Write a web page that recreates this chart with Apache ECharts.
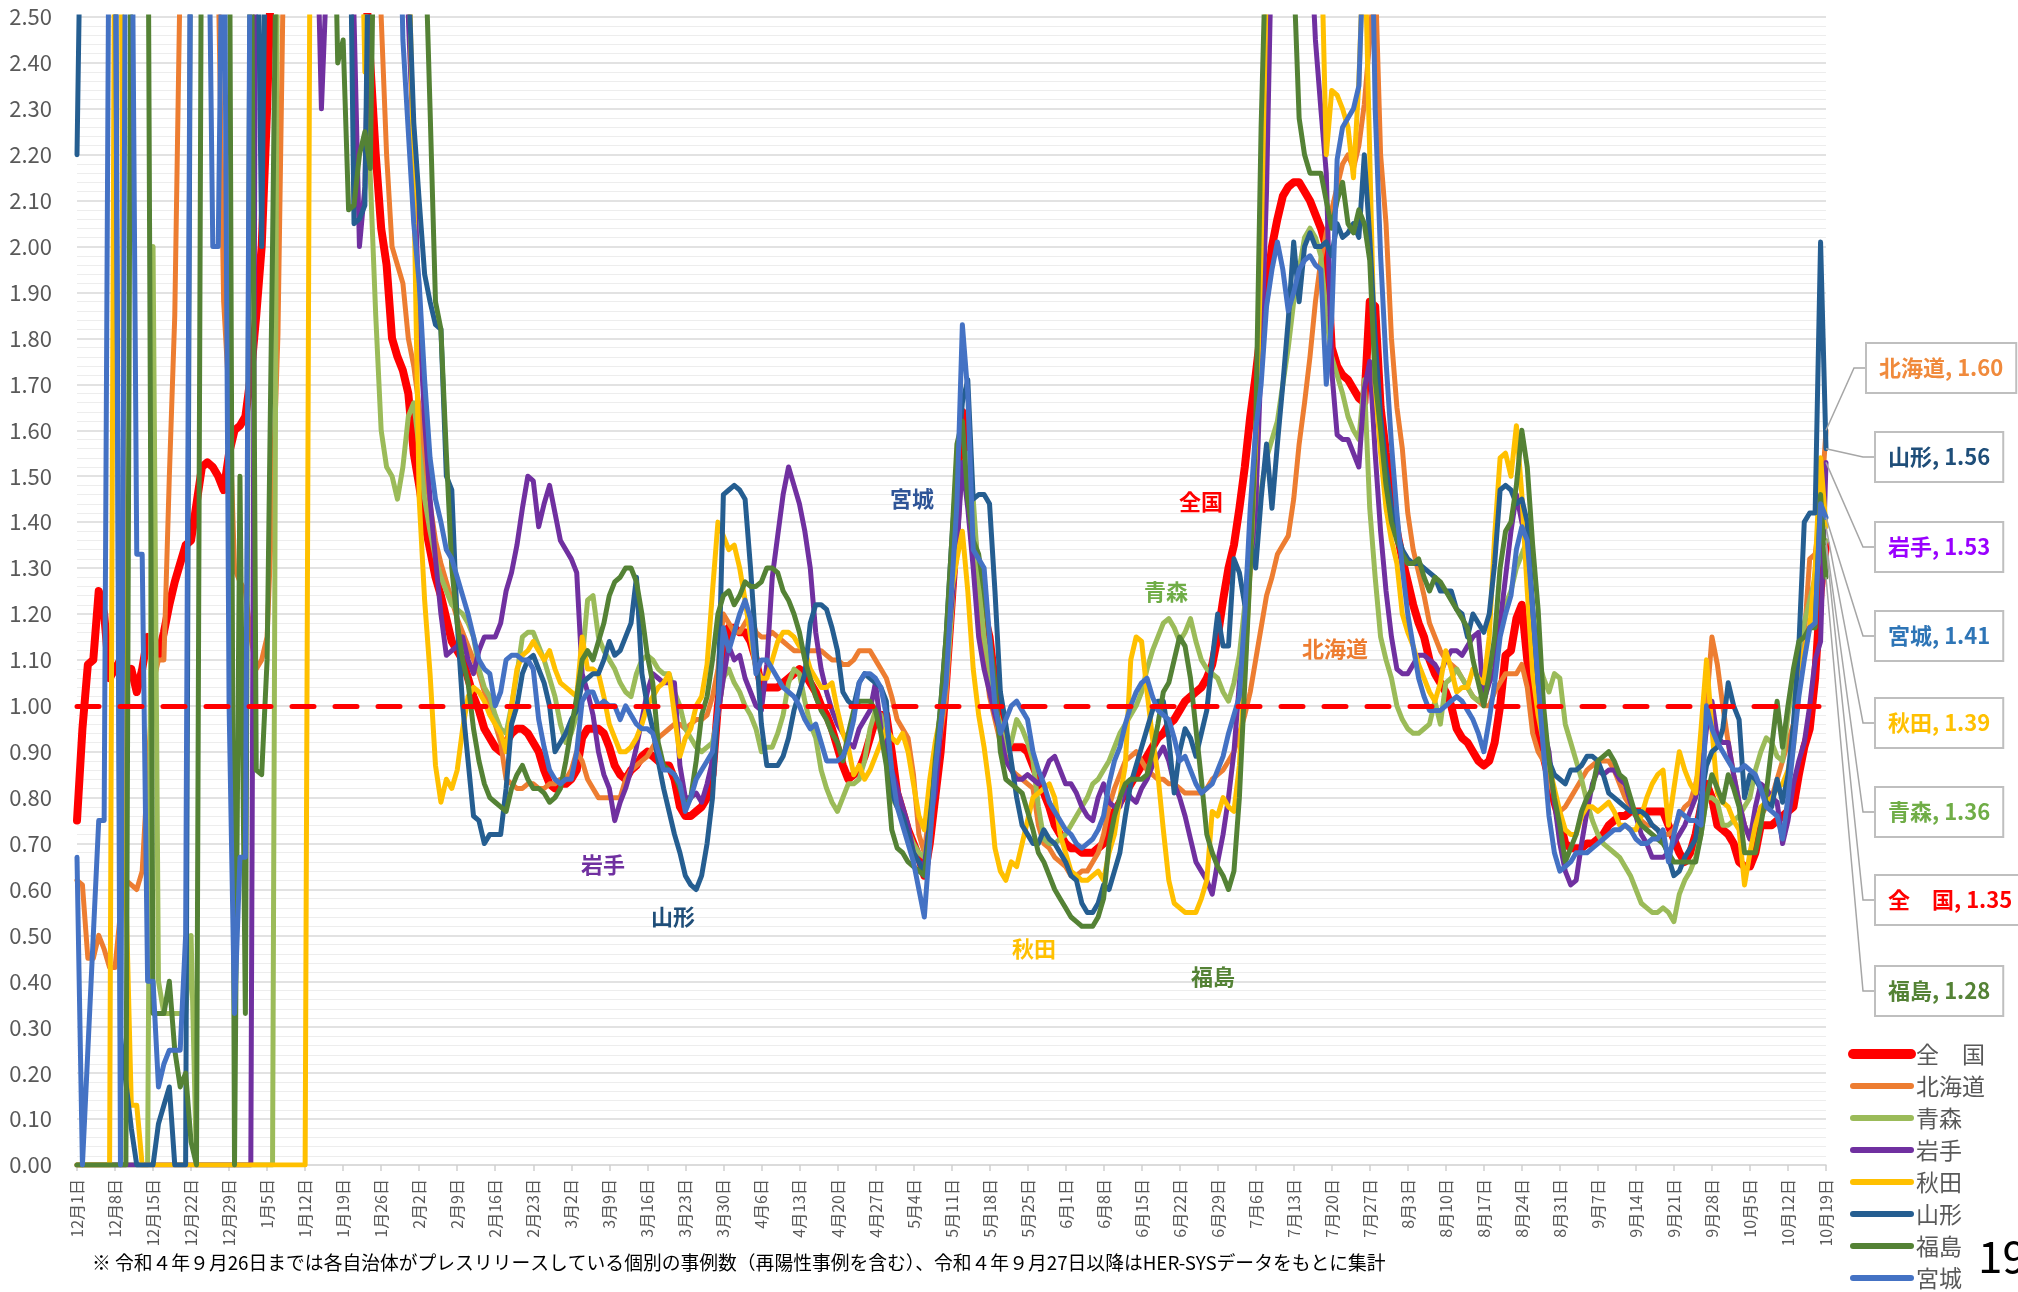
<!DOCTYPE html>
<html><head><meta charset="utf-8">
<script src="https://cdn.jsdelivr.net/npm/echarts@6/dist/echarts.min.js"></script>
<style>html,body{margin:0;padding:0;background:#fff}#c{width:2018px;height:1292px}</style>
</head><body><div id="c"></div>
<script>
// ---- categories: daily from 12月1日 to 10月19日 ----
const monthNames = [12,1,2,3,4,5,6,7,8,9,10];
const monthDays  = [31,31,28,31,30,31,30,31,31,30,19];
const categories = [];
monthNames.forEach((m,k)=>{ for(let d=1; d<=monthDays[k]; d++) categories.push(m+'月'+d+'日'); });

const seriesNames = ['全　国','北海道','青森','岩手','秋田','山形','福島','宮城'];
const seriesColors = ['#FF0000','#ED7D31','#9BBB59','#7030A0','#FFC000','#255E91','#548235','#4472C4'];

const zenkoku = [
0.75,0.95,1.09,1.10,1.25,1.20,1.06,1.08,1.10,1.06,
1.08,1.03,1.08,1.15,1.12,1.11,1.16,1.22,1.27,1.31,
1.35,1.36,1.44,1.52,1.53,1.52,1.50,1.47,1.55,1.60,
1.61,1.63,1.72,1.85,2.00,2.30,2.70,3.00,3.00,3.00,
3,3,3,3,3,3,3,3,3,3,
3.0,3.0,2.9,2.6,2.40,2.20,2.04,1.96,1.80,1.76,
1.73,1.68,1.55,1.48,1.40,1.34,1.28,1.24,1.19,1.14,
1.12,1.10,1.06,1.02,0.99,0.95,0.93,0.91,0.90,0.92,
0.94,0.95,0.95,0.94,0.92,0.90,0.86,0.83,0.82,0.83,
0.83,0.84,0.86,0.93,0.95,0.95,0.95,0.94,0.91,0.87,
0.85,0.84,0.86,0.87,0.89,0.90,0.89,0.88,0.87,0.87,
0.84,0.78,0.76,0.76,0.77,0.78,0.80,0.85,1.00,1.10,
1.17,1.17,1.16,1.16,1.14,1.10,1.04,1.04,1.04,1.04,
1.05,1.06,1.07,1.08,1.07,1.05,1.03,1.00,0.98,0.95,
0.91,0.87,0.84,0.85,0.86,0.89,0.93,0.97,0.98,0.98,
0.90,0.81,0.77,0.73,0.70,0.67,0.63,0.70,0.80,0.90,
1.05,1.22,1.40,1.64,1.52,1.38,1.25,1.20,1.15,1.05,
0.95,0.91,0.91,0.91,0.91,0.90,0.87,0.84,0.81,0.78,
0.74,0.72,0.70,0.69,0.69,0.68,0.68,0.68,0.69,0.70,
0.74,0.77,0.79,0.81,0.83,0.85,0.87,0.89,0.91,0.93,
0.94,0.96,0.97,0.99,1.01,1.02,1.03,1.04,1.06,1.09,
1.15,1.23,1.30,1.35,1.43,1.52,1.63,1.72,1.82,1.90,
2.00,2.06,2.11,2.13,2.14,2.14,2.12,2.10,2.07,2.04,
2.00,1.78,1.74,1.72,1.71,1.69,1.67,1.66,1.88,1.87,
1.65,1.55,1.47,1.38,1.32,1.27,1.22,1.18,1.15,1.10,
1.07,1.05,1.03,1.00,0.95,0.93,0.92,0.90,0.88,0.87,
0.88,0.92,1.00,1.11,1.12,1.19,1.22,1.10,1.00,0.94,
0.89,0.84,0.79,0.75,0.70,0.69,0.69,0.69,0.70,0.70,
0.71,0.72,0.74,0.75,0.76,0.76,0.77,0.77,0.77,0.77,
0.77,0.77,0.77,0.74,0.71,0.68,0.66,0.68,0.72,0.78,
0.83,0.80,0.74,0.73,0.72,0.70,0.66,0.65,0.65,0.68,
0.74,0.74,0.74,0.75,0.76,0.77,0.78,0.85,0.91,0.95,
1.06,1.25,1.35];

const hokkaido = [
0.62,0.61,0.45,0.45,0.50,0.47,0.43,0.43,0.55,0.62,
0.61,0.60,0.64,0.85,1.05,1.10,1.10,1.50,1.85,2.60,
3.0,3.0,3.0,3.0,3.0,3.0,2.6,1.88,1.67,1.30,
1.27,1.25,1.15,1.08,1.10,1.15,1.45,1.81,2.60,3.0,
3,3,3,3,3,3,3,3,3,3,
3,3,3,3,3,3,2.5,2.2,2.00,1.96,
1.92,1.80,1.74,1.65,1.52,1.44,1.36,1.31,1.27,1.23,
1.19,1.16,1.13,1.10,1.07,1.03,1.00,0.96,0.92,0.84,
0.83,0.82,0.82,0.83,0.83,0.82,0.82,0.83,0.83,0.84,
0.84,0.86,0.90,0.88,0.84,0.82,0.80,0.80,0.80,0.80,
0.80,0.84,0.86,0.87,0.88,0.89,0.91,0.93,0.94,0.95,
0.96,0.96,0.95,0.96,0.97,0.97,0.98,1.02,1.08,1.20,
1.18,1.16,1.16,1.18,1.20,1.16,1.15,1.15,1.16,1.15,
1.14,1.13,1.12,1.12,1.12,1.12,1.12,1.12,1.11,1.10,
1.10,1.09,1.09,1.10,1.12,1.12,1.12,1.10,1.08,1.06,
1.02,0.97,0.95,0.93,0.85,0.72,0.68,0.78,0.86,0.94,
1.02,1.20,1.40,1.52,1.50,1.42,1.25,1.12,1.02,0.97,
0.92,0.89,0.86,0.85,0.84,0.83,0.82,0.74,0.70,0.69,
0.67,0.66,0.65,0.63,0.63,0.64,0.64,0.66,0.68,0.72,
0.78,0.82,0.85,0.88,0.89,0.90,0.88,0.86,0.85,0.84,
0.84,0.83,0.83,0.82,0.81,0.81,0.81,0.81,0.82,0.84,
0.85,0.86,0.88,0.90,0.94,0.98,1.03,1.10,1.17,1.24,
1.28,1.33,1.35,1.37,1.45,1.57,1.66,1.76,1.88,1.97,
2.03,2.08,2.13,2.18,2.20,2.17,2.22,2.31,2.45,2.60,
2.20,2.05,1.80,1.65,1.56,1.42,1.34,1.29,1.24,1.18,
1.15,1.12,1.10,1.09,1.08,1.06,1.04,1.02,1.01,1.00,
1.00,1.03,1.05,1.07,1.07,1.07,1.09,1.04,0.94,0.90,
0.88,0.84,0.80,0.77,0.78,0.80,0.82,0.84,0.86,0.87,
0.88,0.88,0.88,0.86,0.83,0.80,0.78,0.76,0.75,0.74,
0.74,0.73,0.72,0.72,0.73,0.76,0.78,0.79,0.83,0.88,
1.00,1.15,1.09,1.00,0.92,0.85,0.79,0.74,0.71,0.74,
0.76,0.78,0.80,0.84,0.88,0.92,0.96,1.05,1.15,1.32,
1.33,1.42,1.60];

const aomori = [
0,0,0,0,0,0,0,0,0,0,
0,0,0,0,2.00,0.40,0.33,0.33,0.33,0.33,
0.33,0.50,0,0,0,0,0,0,0,0,
0,0,0,0,0,0,0,3.0,3.0,3.0,
3,3,3,3,3,3,3,3,3,3,
3,3,3,2.5,2.15,1.85,1.60,1.52,1.50,1.45,
1.52,1.63,1.66,1.56,1.45,1.38,1.32,1.28,1.25,1.22,
1.21,1.20,1.18,1.15,1.08,1.04,1.02,0.98,0.95,0.94,
1.00,1.07,1.15,1.16,1.16,1.13,1.10,1.06,1.02,0.96,
0.92,0.94,0.98,1.10,1.23,1.24,1.15,1.12,1.10,1.08,
1.05,1.03,1.02,1.07,1.10,1.11,1.10,1.08,1.07,1.07,
1.03,1.00,0.95,0.93,0.91,0.90,0.91,0.92,0.98,1.06,
1.08,1.05,1.03,1.00,0.98,0.95,0.90,0.91,0.91,0.94,
0.98,1.05,1.08,1.07,1.01,0.96,0.93,0.86,0.82,0.79,
0.77,0.80,0.83,0.83,0.84,0.88,0.95,0.99,0.98,0.92,
0.80,0.78,0.76,0.73,0.70,0.68,0.67,0.74,0.85,0.96,
1.05,1.20,1.38,1.52,1.55,1.45,1.28,1.15,1.08,1.00,
0.96,0.90,0.92,0.97,0.95,0.92,0.88,0.78,0.71,0.70,
0.70,0.71,0.72,0.74,0.76,0.78,0.80,0.83,0.84,0.86,
0.88,0.91,0.94,0.96,0.98,1.00,1.03,1.08,1.12,1.15,
1.18,1.19,1.17,1.14,1.16,1.19,1.14,1.10,1.08,1.07,
1.06,1.03,1.01,1.05,1.11,1.22,1.30,1.40,1.47,1.54,
1.58,1.62,1.70,1.78,1.88,1.95,2.02,2.04,2.02,1.98,
1.85,1.76,1.72,1.68,1.63,1.60,1.58,1.71,1.43,1.28,
1.15,1.10,1.06,1.00,0.97,0.95,0.94,0.94,0.95,0.96,
1.01,0.96,1.05,1.06,1.08,1.06,1.04,1.02,1.01,1.03,
1.08,1.11,1.16,1.22,1.25,1.30,1.33,1.36,1.20,1.10,
1.06,1.03,1.07,1.06,0.96,0.92,0.88,0.84,0.79,0.75,
0.72,0.70,0.69,0.68,0.67,0.65,0.63,0.60,0.57,0.56,
0.55,0.55,0.56,0.55,0.53,0.59,0.62,0.64,0.67,0.72,
0.80,0.80,0.79,0.74,0.74,0.75,0.76,0.78,0.80,0.86,
0.90,0.93,0.92,0.89,0.88,0.98,1.05,1.12,1.18,1.23,
1.28,1.33,1.36];

const iwate = [
0,0,0,0,0,0,0,0,0,0,
0,0,0,0,0,0,0,0,0,0,
0,0,0,0,0,0,0,0,0,0,
0,0,0,3.0,3.0,3.0,3.0,3.0,3.0,3.0,
3.0,3.0,3.0,3.0,2.8,2.30,2.6,3.0,3.0,3.0,
3.0,2.5,2.00,2.13,2.7,3.0,3.0,3.0,3.0,3.0,
3.0,2.5,2.2,1.85,1.62,1.45,1.32,1.20,1.11,1.12,
1.13,1.15,1.10,1.07,1.12,1.15,1.15,1.15,1.18,1.25,
1.29,1.35,1.43,1.50,1.49,1.39,1.44,1.48,1.42,1.36,
1.34,1.32,1.29,1.07,1.03,0.98,0.90,0.85,0.82,0.75,
0.79,0.82,0.86,0.91,0.97,1.03,1.07,1.06,1.05,1.05,
1.05,0.87,0.80,0.80,0.81,0.79,0.83,0.88,0.98,1.06,
1.13,1.10,1.11,1.06,1.03,1.00,0.99,1.09,1.28,1.37,
1.46,1.52,1.48,1.44,1.38,1.30,1.16,1.08,1.03,0.99,
0.96,0.94,0.92,0.91,0.95,0.97,0.99,1.05,0.95,0.90,
0.86,0.82,0.78,0.74,0.68,0.66,0.65,0.75,0.81,0.95,
1.10,1.22,1.34,1.53,1.43,1.30,1.15,1.08,1.03,0.98,
0.94,0.88,0.86,0.84,0.84,0.85,0.84,0.83,0.85,0.88,
0.89,0.86,0.83,0.83,0.81,0.78,0.76,0.75,0.80,0.83,
0.79,0.78,0.78,0.82,0.80,0.79,0.82,0.84,0.87,0.89,
0.91,0.88,0.83,0.80,0.76,0.71,0.66,0.64,0.62,0.59,
0.66,0.72,0.80,0.90,1.05,1.15,1.30,1.43,1.75,2.12,
2.7,3.0,3.0,3.0,3.0,3.0,3.0,2.7,2.45,2.30,
2.16,1.73,1.59,1.58,1.58,1.55,1.52,1.69,1.75,1.55,
1.38,1.25,1.15,1.08,1.07,1.07,1.09,1.11,1.11,1.10,
1.09,1.07,1.10,1.12,1.12,1.11,1.13,1.15,1.16,1.01,
1.05,1.08,1.18,1.28,1.38,1.46,1.40,1.35,1.21,1.04,
0.95,0.90,0.79,0.70,0.64,0.61,0.62,0.70,0.77,0.83,
0.86,0.85,0.86,0.86,0.84,0.83,0.79,0.76,0.72,0.70,
0.67,0.67,0.67,0.68,0.70,0.72,0.74,0.77,0.80,0.85,
0.95,1.01,0.93,0.92,0.92,0.85,0.79,0.74,0.71,0.78,
0.83,0.82,0.80,0.79,0.70,0.75,0.83,0.88,0.92,1.00,
1.10,1.14,1.53];

const akita = [
0,0,0,0,0,0,0,3.0,3.0,0.6,
0.13,0.13,0,0,0,0,0,0,0,0,
0,0,0,0,0,0,0,0,0,0,
0,0,0,0,0,0,0,0,0,0,
0,0,0,3.0,3.0,3.0,3.0,3.0,3.0,3.0,
3.0,3.0,3.0,2.38,3.0,3.0,3.0,3.0,3.0,3.0,
3.0,2.7,2.14,1.45,1.23,1.07,0.87,0.79,0.84,0.82,
0.86,0.95,1.02,1.04,1.03,1.01,0.98,0.96,0.94,0.90,
1.00,1.08,1.11,1.12,1.14,1.12,1.10,1.12,1.08,1.05,
1.04,1.03,1.02,1.15,1.08,1.08,1.07,1.02,0.96,0.93,
0.90,0.90,0.91,0.93,0.96,1.00,1.02,1.04,1.05,1.07,
0.98,0.89,0.93,0.95,1.00,1.02,1.09,1.25,1.40,1.37,
1.34,1.35,1.30,1.23,1.15,1.08,1.06,1.06,1.10,1.14,
1.16,1.16,1.15,1.13,1.12,1.08,1.06,1.04,1.04,1.05,
0.99,0.94,0.91,0.85,0.87,0.84,0.86,0.89,0.92,0.95,
0.93,0.92,0.94,0.90,0.83,0.76,0.73,0.84,0.92,0.98,
1.10,1.25,1.32,1.38,1.25,1.08,0.98,0.91,0.82,0.69,
0.64,0.62,0.66,0.65,0.70,0.75,0.80,0.81,0.82,0.83,
0.80,0.72,0.68,0.64,0.63,0.62,0.62,0.63,0.64,0.62,
0.68,0.72,0.80,0.87,1.10,1.15,1.14,1.03,0.93,0.85,
0.73,0.62,0.57,0.56,0.55,0.55,0.55,0.58,0.62,0.77,
0.76,0.80,0.78,0.77,0.87,1.08,1.30,1.57,1.99,2.6,
3.0,3.0,3.0,3.0,3.0,3.0,3.0,3.0,3.0,2.7,
2.20,2.34,2.33,2.30,2.26,2.15,2.36,2.7,2.2,1.70,
1.55,1.43,1.36,1.31,1.20,1.16,1.13,1.09,1.06,1.03,
1.01,1.05,1.12,1.08,1.03,1.04,1.04,1.08,1.06,1.05,
1.15,1.37,1.54,1.55,1.50,1.61,1.46,1.25,1.07,0.98,
0.92,0.87,0.82,0.77,0.73,0.72,0.72,0.76,0.78,0.78,
0.77,0.78,0.79,0.77,0.74,0.74,0.73,0.73,0.76,0.80,
0.83,0.85,0.86,0.74,0.82,0.90,0.86,0.83,0.81,0.95,
1.10,0.95,0.81,0.79,0.78,0.75,0.73,0.61,0.68,0.74,
0.78,0.79,0.80,0.82,0.83,0.86,0.91,1.05,1.12,1.17,
1.30,1.54,1.39];

const yamagata = [
2.2,3.0,3.0,3.0,3.0,3.0,3.0,3.0,0.28,0.18,
0.08,0,0,0,0,0.09,0.13,0.17,0,0,
0,3.0,3.0,3.0,3.0,3.0,3.0,3.0,3.0,3.0,
3.0,3.0,3.0,3.0,2.0,3.0,3.0,3.0,3.0,3.0,
3,3,3,3,3,3,3,3,3,3,
3.0,2.05,2.06,2.09,3.0,3.0,3.0,3.0,3.0,3.0,
3.0,2.6,2.27,2.10,1.94,1.88,1.83,1.82,1.50,1.47,
1.18,1.00,0.88,0.76,0.75,0.70,0.72,0.72,0.72,0.82,
0.96,1.00,1.07,1.10,1.11,1.08,1.05,1.00,0.90,0.92,
0.94,0.97,0.99,1.05,1.06,1.07,1.07,1.10,1.14,1.11,
1.12,1.15,1.18,1.28,1.07,1.00,0.95,0.88,0.82,0.77,
0.72,0.68,0.63,0.61,0.60,0.63,0.70,0.80,1.00,1.46,
1.47,1.48,1.47,1.45,1.30,1.13,0.96,0.87,0.87,0.87,
0.89,0.93,0.99,1.03,1.07,1.18,1.22,1.22,1.21,1.17,
1.12,1.03,1.01,1.00,1.05,1.07,1.06,1.05,1.04,1.01,
0.81,0.78,0.76,0.72,0.68,0.66,0.63,0.75,0.86,1.00,
1.15,1.35,1.52,1.66,1.71,1.45,1.46,1.46,1.44,1.25,
1.03,0.96,0.88,0.80,0.74,0.72,0.70,0.70,0.73,0.71,
0.70,0.68,0.66,0.63,0.62,0.57,0.55,0.55,0.57,0.61,
0.60,0.64,0.68,0.76,0.83,0.87,0.91,0.95,0.99,1.01,
1.01,0.93,0.81,0.90,0.95,0.93,0.89,0.94,0.99,1.10,
1.20,1.13,1.13,1.32,1.29,1.22,1.36,1.30,1.45,1.57,
1.43,1.57,1.70,1.84,2.01,1.88,2.00,2.03,2.00,2.00,
2.01,1.98,2.05,2.02,2.03,2.05,2.02,2.20,2.02,1.80,
1.63,1.52,1.43,1.38,1.34,1.32,1.31,1.31,1.30,1.29,
1.28,1.25,1.25,1.25,1.21,1.20,1.15,1.20,1.18,1.16,
1.20,1.31,1.47,1.48,1.47,1.44,1.45,1.40,1.21,1.05,
0.95,0.88,0.85,0.84,0.83,0.86,0.86,0.87,0.89,0.89,
0.88,0.85,0.81,0.80,0.79,0.78,0.77,0.77,0.77,0.76,
0.74,0.73,0.71,0.67,0.63,0.64,0.67,0.69,0.71,0.80,
0.87,0.90,0.91,0.95,1.05,1.00,0.97,0.80,0.85,0.84,
0.82,0.79,0.78,0.84,0.79,0.85,0.96,1.13,1.40,1.42,
1.42,2.01,1.56];

const fukushima = [
0,0,0,0,0,0,0,0,0,0,
3.0,3.0,3.0,3.0,0.33,0.33,0.33,0.40,0.25,0.17,
0.20,0.05,0,3.0,3.0,3.0,3.0,3.0,3.0,0,
1.50,0.33,3.0,0.86,0.85,1.1,2.0,3.0,3.0,3.0,
3.0,3.0,3.0,3.0,3.0,3.0,3.0,3.0,2.40,2.45,
2.08,2.09,2.20,2.25,2.17,3.0,3.0,3.0,3.0,3.0,
3.0,3.0,3.0,3.0,2.7,2.3,1.88,1.82,1.55,1.30,
1.18,1.10,1.05,0.95,0.88,0.83,0.80,0.79,0.78,0.77,
0.82,0.85,0.87,0.84,0.82,0.82,0.81,0.79,0.80,0.82,
0.88,0.95,1.02,1.10,1.12,1.10,1.14,1.18,1.24,1.27,
1.28,1.30,1.30,1.27,1.20,1.11,1.05,0.92,0.87,0.86,
0.85,0.82,0.78,0.80,0.88,0.98,1.02,1.10,1.20,1.24,
1.25,1.22,1.24,1.27,1.26,1.26,1.27,1.30,1.30,1.29,
1.25,1.23,1.20,1.16,1.10,1.06,1.02,0.99,0.97,0.94,
0.92,0.88,0.94,0.99,1.01,1.01,1.01,0.99,0.94,0.87,
0.73,0.69,0.68,0.66,0.65,0.64,0.63,0.72,0.88,1.00,
1.15,1.35,1.57,1.62,1.45,1.36,1.33,1.25,1.15,1.05,
0.90,0.84,0.83,0.82,0.81,0.77,0.73,0.68,0.66,0.63,
0.60,0.58,0.56,0.54,0.53,0.52,0.52,0.52,0.54,0.58,
0.70,0.76,0.80,0.83,0.84,0.84,0.84,0.85,0.90,0.96,
1.03,1.05,1.10,1.15,1.13,1.06,0.95,0.84,0.72,0.68,
0.65,0.63,0.60,0.64,0.80,1.05,1.30,1.60,2.26,2.7,
3.0,3.0,3.0,3.0,2.6,2.28,2.20,2.16,2.16,2.16,
2.10,2.04,2.10,2.14,2.05,2.03,2.08,2.05,1.97,1.71,
1.60,1.48,1.40,1.36,1.33,1.31,1.31,1.32,1.28,1.25,
1.28,1.27,1.25,1.23,1.21,1.19,1.17,1.10,1.05,1.00,
1.07,1.15,1.30,1.38,1.40,1.48,1.60,1.52,1.35,1.21,
1.00,0.88,0.80,0.74,0.66,0.69,0.72,0.77,0.80,0.82,
0.88,0.89,0.90,0.88,0.85,0.84,0.80,0.76,0.74,0.73,
0.72,0.71,0.70,0.68,0.66,0.66,0.66,0.66,0.66,0.72,
0.80,0.85,0.82,0.79,0.85,0.82,0.78,0.68,0.68,0.68,
0.74,0.81,0.91,1.01,0.91,1.00,1.08,1.14,1.15,1.17,
1.17,1.46,1.28];

const miyagi = [
0.67,0.00,0.25,0.50,0.75,0.75,3.0,3.0,0.0,3.0,
3.0,1.33,1.33,0.40,0.40,0.17,0.22,0.25,0.25,0.25,
0.50,3.0,3.0,3.0,3.0,2.00,2.00,3.0,1.0,0.33,
0.67,0.67,3.0,3.0,3.0,3.0,3.0,3.0,3.0,3.0,
3,3,3,3,3,3,3,3,3,3,
3,3,3,3,3,3,3,3,3,3,
2.45,2.25,2.05,1.92,1.71,1.54,1.45,1.40,1.34,1.32,
1.28,1.24,1.20,1.15,1.10,1.08,1.07,1.00,1.03,1.10,
1.11,1.11,1.10,1.10,1.08,0.97,0.91,0.86,0.84,0.83,
0.84,0.84,0.90,1.01,1.03,1.03,1.00,1.01,1.00,1.00,
0.97,1.00,0.98,0.96,0.95,0.95,0.94,0.90,0.86,0.86,
0.85,0.83,0.77,0.80,0.84,0.86,0.88,0.90,1.00,1.17,
1.12,1.16,1.20,1.23,1.19,1.07,1.10,1.10,1.08,1.06,
1.04,1.03,1.02,1.00,0.97,0.95,0.96,0.92,0.88,0.88,
0.88,0.89,0.92,0.97,1.05,1.07,1.07,1.06,1.04,0.98,
0.86,0.78,0.74,0.70,0.66,0.60,0.54,0.70,0.86,0.96,
1.05,1.25,1.44,1.83,1.68,1.34,1.32,1.30,1.15,1.00,
0.94,0.97,1.00,1.01,0.99,0.97,0.90,0.86,0.83,0.79,
0.77,0.75,0.73,0.72,0.70,0.69,0.70,0.71,0.73,0.76,
0.83,0.88,0.91,0.96,1.00,1.03,1.05,1.06,1.02,0.99,
0.98,0.97,0.93,0.88,0.89,0.86,0.83,0.81,0.82,0.83,
0.86,0.89,0.94,0.98,1.02,1.20,1.43,1.60,1.70,1.87,
1.95,2.01,1.95,1.86,1.90,1.95,1.97,1.98,1.96,1.95,
1.70,1.84,2.19,2.26,2.28,2.30,2.35,2.7,3.0,2.3,
1.98,1.75,1.57,1.42,1.30,1.20,1.13,1.06,1.02,0.99,
0.99,0.99,1.00,1.01,1.02,1.01,0.99,0.97,0.94,0.90,
0.97,1.05,1.15,1.20,1.24,1.34,1.39,1.36,1.21,1.05,
0.90,0.76,0.68,0.64,0.65,0.66,0.68,0.68,0.68,0.69,
0.70,0.71,0.72,0.73,0.73,0.74,0.73,0.71,0.70,0.70,
0.71,0.71,0.73,0.66,0.72,0.77,0.76,0.75,0.75,0.74,
1.00,0.95,0.92,0.90,0.88,0.86,0.86,0.87,0.86,0.85,
0.82,0.78,0.77,0.76,0.71,0.80,0.91,1.02,1.10,1.17,
1.18,1.44,1.41];

const seriesData = [zenkoku,hokkaido,aomori,iwate,akita,yamagata,fukushima,miyagi];

const FONT = '"Noto Sans CJK JP","Noto Sans",sans-serif';

// callout boxes on the right (name, text colour, box left, box centre y)
const callouts = [
  {name:'北海道', color:'#F08A3C', left:1867, y:368},
  {name:'山形',   color:'#1F4E79', left:1876, y:457},
  {name:'岩手',   color:'#9900FF', left:1876, y:547},
  {name:'宮城',   color:'#2E75B6', left:1876, y:636},
  {name:'秋田',   color:'#FFC000', left:1876, y:723},
  {name:'青森',   color:'#70AD47', left:1876, y:812},
  {name:'全　国', color:'#FF0000', left:1876, y:900},
  {name:'福島',   color:'#548235', left:1876, y:991}
];
// in-plot annotation labels
const annotations = [
  {text:'宮城', color:'#2F5597', x:912, y:499},
  {text:'全国', color:'#FF0000', x:1201, y:502},
  {text:'青森', color:'#70AD47', x:1166, y:592},
  {text:'北海道', color:'#ED7D31', x:1335, y:649},
  {text:'岩手', color:'#7030A0', x:603, y:865},
  {text:'山形', color:'#1F4E79', x:673, y:917},
  {text:'秋田', color:'#FFC000', x:1034, y:949},
  {text:'福島', color:'#548235', x:1213, y:977}
];
const footnote = '※ 令和４年９月26日までは各自治体がプレスリリースしている個別の事例数（再陽性事例を含む）、令和４年９月27日以降はHER-SYSデータをもとに集計';

const chart = echarts.init(document.getElementById('c'), null, {renderer:'canvas'});

const series = seriesNames.map((n,k)=>({
  name:n, type:'line', data:seriesData[k], symbol:'none', showSymbol:false,
  lineStyle:{color:seriesColors[k], width:k===0?8:5, join:'round', cap:'round'},
  itemStyle:{color:seriesColors[k]},
  emphasis:{disabled:true}
}));
series[series.length-1].markLine = {
  symbol:'none', silent:true, label:{show:false},
  lineStyle:{color:'#FF0000', type:[22,21], width:5, cap:'round'},
  data:[{yAxis:1}]
};

const option = {
  animation:false,
  backgroundColor:'#ffffff',
  grid:{left:77, right:192, top:17, bottom:127},
  xAxis:{
    type:'category', data:categories, boundaryGap:false,
    axisLine:{show:true, lineStyle:{color:'#D9D9D9', width:1.5}},
    axisTick:{show:true, interval:6, length:6, lineStyle:{color:'#D0D0D0', width:1.5}},
    axisLabel:{interval:6, rotate:90, margin:14, fontSize:16, color:'#595959', fontFamily:FONT},
    splitLine:{show:false}
  },
  yAxis:{
    type:'value', min:0, max:2.5, interval:0.1,
    axisLine:{show:false}, axisTick:{show:false},
    axisLabel:{formatter:v=>v.toFixed(2), fontSize:22, color:'#595959', margin:25, fontFamily:FONT},
    splitLine:{show:true, lineStyle:{color:'#D9D9D9', width:1.5}},
    minorTick:{show:false, splitNumber:5},
    minorSplitLine:{show:true, lineStyle:{color:'#EDEDED', width:1.2}}
  },
  legend:{
    orient:'vertical', left:1843, top:1037, height:280, itemWidth:58, itemHeight:14, itemGap:8,
    selectedMode:false,
    textStyle:{fontSize:23, color:'#595959', fontFamily:FONT, lineHeight:24},
    data: seriesNames.map((n,k)=>({name:n, itemStyle:{opacity:0},
      lineStyle:{width:k===0?10:6, cap:'round', color:seriesColors[k]}}))
  },
  series: series
};
chart.setOption(option);

const graphics = [];
callouts.forEach(c=>{
  const k = seriesNames.indexOf(c.name);
  const d = seriesData[k];
  const last = d[d.length-1];
  const p = chart.convertToPixel({xAxisIndex:0, yAxisIndex:0}, [d.length-1, last]);
  graphics.push({type:'polyline', z:50, silent:true,
    shape:{points:[p, [c.left-13, c.y], [c.left, c.y]]},
    style:{stroke:'#A6A6A6', lineWidth:1.5, fill:null}});
  graphics.push({type:'text', z:60, silent:true, x:c.left, y:c.y,
    style:{text:c.name+', '+last.toFixed(2), fill:c.color, font:'bold 22px '+FONT,
      align:'left', verticalAlign:'middle', backgroundColor:'#ffffff',
      borderColor:'#BFBFBF', borderWidth:2, padding:[13,12,13,12]}});
});
annotations.forEach(a=>{
  graphics.push({type:'text', z:40, silent:true, x:a.x, y:a.y,
    style:{text:a.text, fill:a.color, font:'bold 22px '+FONT, align:'center', verticalAlign:'middle'}});
});
graphics.push({type:'text', z:40, silent:true, x:92, y:1263,
  style:{text:footnote, fill:'#000000', font:'18.8px '+FONT, align:'left', verticalAlign:'middle'}});
graphics.push({type:'text', z:40, silent:true, x:1978, y:1256,
  style:{text:'19', fill:'#000000', font:'44px '+FONT, align:'left', verticalAlign:'middle'}});
chart.setOption({graphic:{elements:graphics}});
</script>
</body></html>
